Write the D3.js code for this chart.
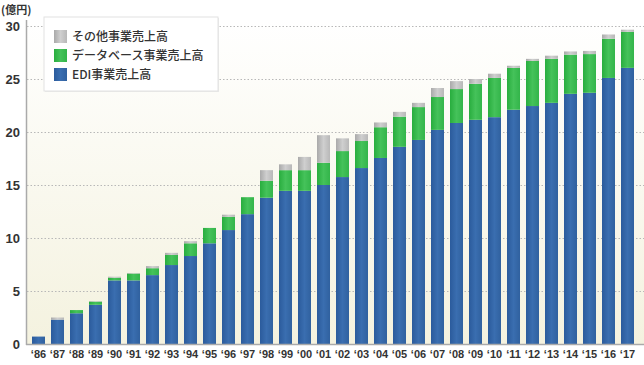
<!DOCTYPE html>
<html><head><meta charset="utf-8">
<script src="https://cdn.jsdelivr.net/npm/d3@7/dist/d3.min.js"></script>
<style>
html,body{margin:0;padding:0;background:#fff;}
svg{display:block;font-family:"Liberation Sans","Noto Sans CJK JP",Arial,sans-serif;}
</style></head><body>
<svg id="c" width="644" height="365"></svg>
<script>
const years = ["86","87","88","89","90","91","92","93","94","95","96","97","98","99","00","01","02","03","04","05","06","07","08","09","10","11","12","13","14","15","16","17"];
const edi = [0.7,2.3,2.9,3.7,6.0,6.0,6.5,7.45,8.3,9.5,10.75,12.25,13.8,14.45,14.45,15.0,15.75,16.6,17.55,18.6,19.25,20.2,20.85,21.15,21.4,22.1,22.45,22.75,23.6,23.7,25.1,26.05];
const database = [0,0,0.3,0.3,0.25,0.65,0.65,0.95,1.2,1.45,1.25,1.6,1.6,1.95,1.95,2.1,2.45,2.55,2.9,2.85,3.1,3.1,3.2,3.4,3.7,3.95,4.25,4.15,3.7,3.65,3.7,3.4];
const other = [0,0.2,0,0.05,0.1,0.05,0.2,0.2,0.2,0,0.2,0,1.0,0.55,1.25,2.6,1.2,0.65,0.45,0.45,0.4,0.85,0.75,0.45,0.4,0.2,0.2,0.3,0.3,0.3,0.4,0.2];
const yTicks = [0,5,10,15,20,25,30];
const seriesNames = ["EDI事業売上高","データベース事業売上高","その他事業売上高"];
const legendOrder = ["その他事業売上高","データベース事業売上高","EDI事業売上高"];
const unitLabel = "(億円)";

const svg = d3.select("#c");
const defs = svg.append("defs");
function hGrad(id, c1, c2, c3){
  const g = defs.append("linearGradient").attr("id",id).attr("x1","0").attr("x2","1").attr("y1","0").attr("y2","0");
  g.append("stop").attr("offset","0").attr("stop-color",c1);
  g.append("stop").attr("offset","0.5").attr("stop-color",c2);
  g.append("stop").attr("offset","1").attr("stop-color",c3);
}
hGrad("gBlue","#2b5b9c","#3a6eb0","#30619f");
hGrad("gGreen","#28ad3e","#45c25a","#33b54a");
hGrad("gGrey","#a9a9a9","#cfcfcf","#b8b8b8");
const bg = defs.append("linearGradient").attr("id","bg").attr("x1","0").attr("x2","0").attr("y1","0").attr("y2","1");
bg.append("stop").attr("offset","0").attr("stop-color","#ffffff");
bg.append("stop").attr("offset","1").attr("stop-color","#f4f2df");

const x0 = 26, x1 = 644, yTop = 20, yBase = 344;
const y = d3.scaleLinear().domain([0,30]).range([yBase, 26]);
const x = d3.scaleBand().domain(years).range([29, 637]).paddingInner(6/19).paddingOuter(3/19);

svg.append("rect").attr("x",x0).attr("y",yTop).attr("width",x1-x0).attr("height",yBase-yTop).attr("fill","url(#bg)");

// grid
svg.append("g").selectAll("line").data(yTicks.filter(d=>d>0)).join("line")
  .attr("x1",x0+1).attr("x2",x1).attr("y1",d=>Math.round(y(d))+0.5).attr("y2",d=>Math.round(y(d))+0.5)
  .attr("stroke","#b8b8b8").attr("stroke-width",1).attr("stroke-dasharray","1.5,2");

// stacked bars
const rows = years.map((yr,i)=>({year:yr, edi:edi[i], db:database[i], other:other[i]}));
const stack = d3.stack().keys(["edi","db","other"])(rows);
const fills = {edi:"url(#gBlue)", db:"url(#gGreen)", other:"url(#gGrey)"};
svg.append("g").selectAll("g").data(stack).join("g")
  .attr("fill",d=>fills[d.key])
  .selectAll("rect").data(d=>d.filter(p=>p[1]-p[0]>0)).join("rect")
  .attr("x",d=>x(d.data.year)).attr("width",x.bandwidth())
  .attr("y",d=>y(d[1])).attr("height",d=>y(d[0])-y(d[1]));

// axes
svg.append("line").attr("x1",x0+0.5).attr("x2",x0+0.5).attr("y1",yTop).attr("y2",yBase+1).attr("stroke","#aaa").attr("stroke-width",1.5);
svg.append("line").attr("x1",x0).attr("x2",x1).attr("y1",yBase+0.5).attr("y2",yBase+0.5).attr("stroke","#aaa").attr("stroke-width",1.5);

const yAxis = d3.axisLeft(y).tickValues(yTicks).tickSize(0).tickPadding(0);
const ya = svg.append("g").attr("transform",`translate(20,0)`).call(yAxis);
ya.select(".domain").remove();
ya.selectAll("text").attr("font-size","13px").attr("font-weight","bold").attr("fill","#333").attr("dy","0.35em").attr("x",0);

const xAxis = d3.axisBottom(x).tickSize(0).tickPadding(0).tickFormat(d=>"\u2018"+d);
const xa = svg.append("g").attr("transform",`translate(0,${yBase+6})`).call(xAxis);
xa.select(".domain").remove();
xa.selectAll("text").attr("font-size","11px").attr("font-weight","bold").attr("fill","#333").attr("dy","0.71em");

svg.append("text").attr("x",1).attr("y",14).attr("font-size","11px").attr("font-weight","bold").attr("fill","#333")
  .attr("font-family","'Noto Sans CJK JP',sans-serif").text(unitLabel);

// legend
const lg = svg.append("g").attr("transform","translate(44,17)");
lg.append("rect").attr("x",1).attr("y",1).attr("width",174).attr("height",74).attr("fill","#ddd").attr("opacity",0.6);
lg.append("rect").attr("x",0).attr("y",0).attr("width",174).attr("height",74).attr("fill","#fff").attr("stroke","#e2e2e2");
const legFill = {"その他事業売上高":"url(#gGrey)","データベース事業売上高":"url(#gGreen)","EDI事業売上高":"url(#gBlue)"};
const li = lg.selectAll("g.li").data(legendOrder).join("g").attr("class","li")
  .attr("transform",(d,i)=>`translate(10,${13+i*19})`);
li.append("rect").attr("width",13).attr("height",13).attr("fill",d=>legFill[d]);
li.append("text").attr("x",18).attr("y",7).attr("dy","0.35em").attr("font-size","12px").attr("fill","#333")
  .attr("font-family","'Noto Sans CJK JP',sans-serif").attr("font-weight","500").text(d=>d);
</script>
</body></html>
